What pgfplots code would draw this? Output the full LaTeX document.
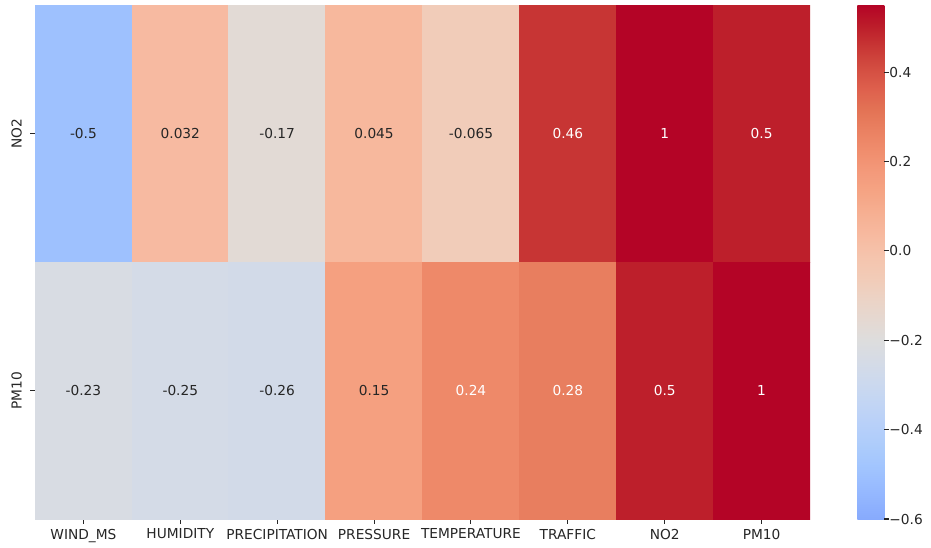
\documentclass[border=0pt]{standalone}
\usepackage{fontspec}
\setmainfont{DejaVu Sans}
\usepackage{pgfplots}
\pgfplotsset{compat=1.18}
\definecolor{txtdark}{HTML}{262626}

% cell values (row 0 = NO2, row 1 = PM10)
\pgfplotstableread{
x y c
0 0 -0.5
1 0 0.032
2 0 -0.17
3 0 0.045
4 0 -0.065
5 0 0.46
6 0 1
7 0 0.5
0 1 -0.23
1 1 -0.25
2 1 -0.26
3 1 0.15
4 1 0.24
5 1 0.28
6 1 0.5
7 1 1
}\corrdata

% annotations on light cells
\pgfplotstableread{
x y lab
0 0 -0.5
1 0 0.032
2 0 -0.17
3 0 0.045
4 0 -0.065
0 1 -0.23
1 1 -0.25
2 1 -0.26
3 1 0.15
}\darklabels

% annotations on dark cells
\pgfplotstableread{
x y lab
5 0 0.46
6 0 1
7 0 0.5
4 1 0.24
5 1 0.28
6 1 0.5
7 1 1
}\lightlabels

\begin{document}
\begin{tikzpicture}
\useasboundingbox (0,0) rectangle (698.25pt,411pt);
\begin{axis}[
  at={(26.25pt,21.75pt)}, anchor=south west,
  scale only axis, width=581.25pt, height=385.5pt,
  xmin=-0.5, xmax=7.5, ymin=-0.5, ymax=1.5,
  y dir=reverse,
  axis line style={draw=none},
  % diverging blue-grey-red map, centred at -0.2
  colormap={coolwarm}{
    rgb255(112)=(135,170,253) rgb255(120)=(141,176,254)
    rgb255(135)=(152,187,255) rgb255(150)=(162,197,254) rgb255(165)=(173,204,251)
    rgb255(180)=(184,208,249) rgb255(195)=(194,213,244) rgb255(210)=(204,217,238)
    rgb255(225)=(213,219,230) rgb255(240)=(221,221,221) rgb255(255)=(229,216,209)
    rgb255(270)=(236,211,197) rgb255(285)=(242,203,183) rgb255(300)=(245,196,173)
    rgb255(315)=(247,186,160) rgb255(330)=(246,176,147) rgb255(345)=(245,165,133)
    rgb255(360)=(244,154,123) rgb255(375)=(240,142,110) rgb255(390)=(234,129,98)
    rgb255(405)=(227,115,85) rgb255(420)=(222,96,77) rgb255(435)=(211,77,65)
    rgb255(450)=(200,55,53) rgb255(465)=(188,29,42) rgb255(480)=(180,4,38)
  },
  point meta min=-0.6, point meta max=0.55,
  xtick={0,...,7},
  xticklabels={WIND\_MS,HUMIDITY,PRECIPITATION,PRESSURE,TEMPERATURE,TRAFFIC,NO2,PM10},
  ytick={0,1},
  yticklabels={NO2,PM10},
  xtick pos=bottom, ytick pos=left,
  tick align=outside,
  major tick length=3.6pt,
  tick style={txtdark, line width=0.8pt},
  ticklabel style={font=\fontsize{10.3}{12}\selectfont, text=txtdark},
  xticklabel style={inner sep=0pt, yshift=-3.6pt, anchor=north},
  yticklabel style={rotate=90, anchor=south, inner sep=0pt, yshift=6pt},
  colorbar,
  colorbar/width=20.25pt,
  colorbar style={
    at={(parent axis.north east)}, anchor=north west, xshift=27pt,
    axis line style={draw=none},
    ytick={-0.6,-0.4,-0.2,0,0.2,0.4},
    yticklabels={−0.6,−0.4,−0.2,0.0,0.2,0.4},
    ytick pos=right, yticklabel pos=right,
    tick align=outside,
    major tick length=3.6pt,
    tick style={txtdark, line width=0.8pt},
    yticklabel style={font=\fontsize{10.3}{12}\selectfont, text=txtdark, inner sep=0pt, xshift=0pt, anchor=west},
  },
]
\addplot[matrix plot*, mesh/cols=8, point meta=explicit] table[x=x, y=y, meta=c] {\corrdata};
\addplot[draw=none, nodes near coords, nodes near coords align=center,
  point meta=explicit symbolic,
  every node near coord/.append style={font=\fontsize{10.3}{12}\selectfont, text=txtdark}]
  table[x=x, y=y, meta=lab] {\darklabels};
\addplot[draw=none, nodes near coords, nodes near coords align=center,
  point meta=explicit symbolic,
  every node near coord/.append style={font=\fontsize{10.3}{12}\selectfont, text=white}]
  table[x=x, y=y, meta=lab] {\lightlabels};
\end{axis}
\end{tikzpicture}
\end{document}
